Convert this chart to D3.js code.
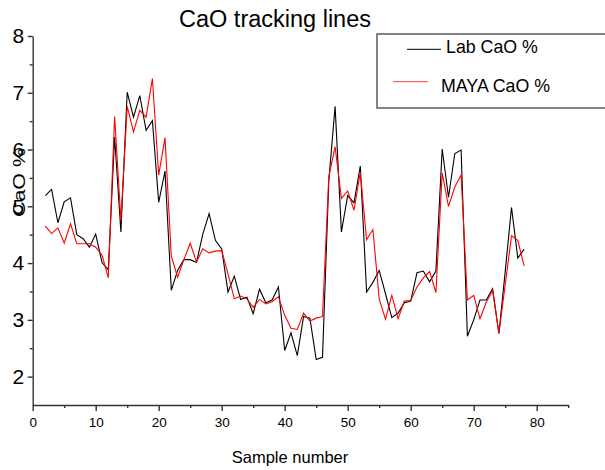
<!DOCTYPE html>
<html>
<head>
<meta charset="utf-8">
<script src="https://cdn.jsdelivr.net/npm/d3@7"></script>
<style>
  body { margin: 0; background: #fff; }
  svg { font-family: "Liberation Sans", Arial, sans-serif; }
  .axis path, .axis line { stroke: #333; stroke-width: 1.4; }
  .axis text { fill: #000; }
</style>
</head>
<body>
<svg></svg>
<script>
var width = 605,
    height = 470;

// sample numbers 2..78
var samples = [2, 3, 4, 5, 6, 7, 8, 9, 10, 11, 12, 13, 14, 15, 16, 17, 18, 19, 20,
  21, 22, 23, 24, 25, 26, 27, 28, 29, 30, 31, 32, 33, 34, 35, 36, 37, 38, 39, 40,
  41, 42, 43, 44, 45, 46, 47, 48, 49, 50, 51, 52, 53, 54, 55, 56, 57, 58, 59, 60,
  61, 62, 63, 64, 65, 66, 67, 68, 69, 70, 71, 72, 73, 74, 75, 76, 77, 78];

var labCaO = [5.19, 5.30, 4.71, 5.08, 5.15, 4.50, 4.43, 4.28, 4.51, 4.01, 3.88, 6.22, 4.55,
  7.01, 6.57, 6.95, 6.34, 6.51, 5.07, 5.62, 3.52, 3.87, 4.06, 4.06, 4.01, 4.51, 4.87,
  4.40, 4.25, 3.49, 3.77, 3.36, 3.40, 3.11, 3.54, 3.30, 3.35, 3.58, 2.46, 2.77, 2.37,
  3.06, 3.03, 2.30, 2.34, 5.45, 6.76, 4.55, 5.19, 5.06, 5.71, 3.49, 3.66, 3.87, 3.46,
  3.04, 3.12, 3.30, 3.33, 3.83, 3.86, 3.67, 3.86, 6.01, 5.16, 5.93, 5.99, 2.71, 3.00,
  3.35, 3.35, 3.55, 2.76, 3.85, 4.98, 4.09, 4.24];

var mayaCaO = [4.65, 4.52, 4.62, 4.35, 4.69, 4.34, 4.34, 4.34, 4.28, 4.14, 3.74, 6.58, 4.75,
  6.76, 6.31, 6.69, 6.57, 7.25, 5.55, 6.21, 4.12, 3.75, 4.06, 4.35, 4.02, 4.25, 4.18,
  4.21, 4.22, 3.81, 3.37, 3.42, 3.37, 3.22, 3.36, 3.28, 3.32, 3.41, 3.08, 2.85, 2.83,
  3.12, 2.98, 3.03, 3.06, 5.52, 6.05, 5.14, 5.27, 4.93, 5.60, 4.41, 4.59, 3.37, 3.01,
  3.43, 3.02, 3.33, 3.34, 3.58, 3.74, 3.85, 3.48, 5.59, 5.00, 5.34, 5.55, 3.35, 3.43,
  3.02, 3.31, 3.52, 2.76, 3.62, 4.48, 4.40, 3.95];

var xTicks = [0, 10, 20, 30, 40, 50, 60, 70, 80];
var xMinor = [5, 15, 25, 35, 45, 55, 65, 75, 85];
var yTicks = [2, 3, 4, 5, 6, 7, 8];
var yMinor = [2.5, 3.5, 4.5, 5.5, 6.5, 7.5];

var seriesNames = ["Lab CaO %", "MAYA CaO %"];
var seriesColors = ["#000", "#f00"];

var svg = d3.select("svg")
    .attr("width", width)
    .attr("height", height);

var x = d3.scaleLinear().domain([0, 85]).range([32.7, 568.2]);
var y = d3.scaleLinear().domain([1.5, 8]).range([405, 36]);

// axes
svg.append("g")
    .attr("class", "axis")
    .attr("transform", "translate(0,405)")
    .call(d3.axisBottom(x).tickValues(xTicks).tickSize(6).tickSizeOuter(0).tickPadding(6)
      .tickFormat(d3.format("d")))
    .call(g => g.selectAll("text").attr("font-size", 13.5).attr("font-family", "Liberation Sans"));

svg.append("g")
    .attr("class", "axis")
    .attr("transform", "translate(0,405)")
    .call(d3.axisBottom(x).tickValues(xMinor).tickSize(3).tickSizeOuter(0).tickFormat(""))
    .call(g => g.select(".domain").remove());

svg.append("g")
    .attr("class", "axis")
    .attr("transform", "translate(32.7,0)")
    .call(d3.axisLeft(y).tickValues(yTicks).tickSize(5).tickSizeOuter(0).tickPadding(3.5)
      .tickFormat(d3.format("d")))
    .call(g => g.selectAll("text").attr("font-size", 21).attr("font-family", "Liberation Sans"));

svg.append("g")
    .attr("class", "axis")
    .attr("transform", "translate(32.7,0)")
    .call(d3.axisLeft(y).tickValues(yMinor).tickSize(3).tickSizeOuter(0).tickFormat(""))
    .call(g => g.select(".domain").remove());

// lines
var line = d3.line()
    .x(function(d, i) { return x(samples[i]); })
    .y(function(d) { return y(d); });

[labCaO, mayaCaO].forEach(function(vals, k) {
  svg.append("path")
      .datum(vals)
      .attr("fill", "none")
      .attr("stroke", seriesColors[k])
      .attr("stroke-width", 1.1)
      .attr("stroke-linejoin", "miter")
      .attr("d", line);
});

// title + axis labels
svg.append("text")
    .attr("x", 275)
    .attr("y", 26.5)
    .attr("text-anchor", "middle")
    .attr("font-size", 23.5)
    .text("CaO tracking lines");

svg.append("text")
    .attr("x", 290)
    .attr("y", 463)
    .attr("text-anchor", "middle")
    .attr("font-size", 16.5)
    .text("Sample number");

svg.append("text")
    .attr("transform", "translate(25,182.5) rotate(-90)")
    .attr("text-anchor", "middle")
    .attr("font-size", 17)
    .attr("textLength", 69)
    .attr("lengthAdjust", "spacingAndGlyphs")
    .text("CaO %");

// legend
var legend = svg.append("g");

legend.append("rect")
    .attr("x", 377)
    .attr("y", 34)
    .attr("width", 260)
    .attr("height", 74)
    .attr("fill", "#fff")
    .attr("stroke", "#666")
    .attr("stroke-width", 1.6);

var legendRows = [
  { x1: 407, x2: 441, ly: 49.3, tx: 446, ty: 52.5 },
  { x1: 393, x2: 428, ly: 81.7, tx: 441, ty: 92 }
];

legendRows.forEach(function(r, k) {
  legend.append("line")
      .attr("x1", r.x1).attr("x2", r.x2)
      .attr("y1", r.ly).attr("y2", r.ly)
      .attr("stroke", seriesColors[k])
      .attr("stroke-opacity", k ? 0.6 : 0.8)
      .attr("stroke-width", 1.2);
  legend.append("text")
      .attr("x", r.tx)
      .attr("y", r.ty)
      .attr("font-size", 17.8)
      .text(seriesNames[k]);
});
</script>
</body>
</html>
